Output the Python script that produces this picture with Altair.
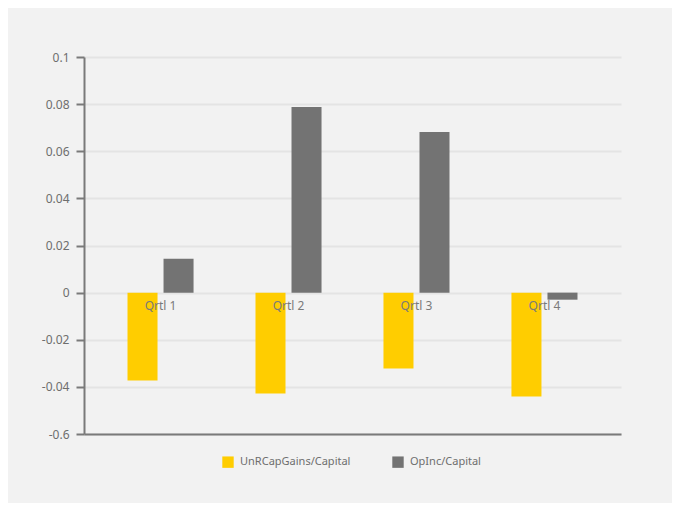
import altair as alt
import pandas as pd

quarters = ["Qrtl 1", "Qrtl 2", "Qrtl 3", "Qrtl 4"]
series = ["UnRCapGains/Capital", "OpInc/Capital"]
unr_cap_gains = [-0.0373, -0.0428, -0.0322, -0.0441]
opinc = [0.0144, 0.0788, 0.0682, -0.003]
colors = ["#FFCD00", "#737373"]
tick_values = [0.1, 0.08, 0.06, 0.04, 0.02, 0, -0.02, -0.04, -0.06]
tick_labels = ["0.1", "0.08", "0.06", "0.04", "0.02", "0", "-0.02", "-0.04", "-0.6"]

rows = []
for q, a, b in zip(quarters, unr_cap_gains, opinc):
    rows.append({"quarter": q, "series": series[0], "value": a})
    rows.append({"quarter": q, "series": series[1], "value": b})
df = pd.DataFrame(rows)
lab_df = pd.DataFrame({"quarter": quarters})

label_expr = "[" + ",".join("'%s'" % s for s in tick_labels) + "][indexof([" + \
    ",".join(str(v) for v in tick_values) + "], datum.value)]"

FONT = "Noto Sans"
TXT = "#6e6e6e"

xscale = alt.Scale(domain=quarters, paddingInner=0.484, paddingOuter=0.34)
yscale = alt.Scale(domain=[-0.06, 0.1], nice=False)

bars = alt.Chart(df).mark_bar().encode(
    x=alt.X("quarter:N", scale=xscale, sort=quarters,
            axis=alt.Axis(title=None, labels=False, ticks=False, domain=True,
                          domainColor="#7a7a7a", domainWidth=2, grid=False)),
    xOffset=alt.XOffset("series:N", sort=series,
                        scale=alt.Scale(domain=series, paddingInner=0.1667, paddingOuter=0)),
    y=alt.Y("value:Q", scale=yscale,
            axis=alt.Axis(title=None, values=tick_values, labelExpr=label_expr,
                          grid=True, gridColor="#e4e4e4", gridWidth=2,
                          domainColor="#7a7a7a", domainWidth=2,
                          tickColor="#7a7a7a", tickWidth=2, tickSize=8,
                          labelColor=TXT, labelFont=FONT, labelFontSize=12,
                          labelPadding=7)),
    color=alt.Color("series:N", sort=series,
                    scale=alt.Scale(domain=series, range=colors),
                    legend=alt.Legend(title=None, orient="none", legendX=138, legendY=399,
                                      direction="horizontal", symbolType="square",
                                      symbolSize=130, symbolStrokeWidth=0,
                                      labelFont=FONT, labelFontSize=11, labelColor=TXT,
                                      columnPadding=41, labelOffset=6)),
)

labels = alt.Chart(lab_df).mark_text(font=FONT, fontSize=12, color="#7a7a7a", dy=13,
                                     baseline="middle").encode(
    x=alt.X("quarter:N", scale=xscale, sort=quarters),
    y=alt.datum(0),
    text="quarter:N",
)

chart = alt.layer(bars, labels).properties(
    width=537, height=377,
    autosize=alt.AutoSizeParams(type="none"),
    padding={"left": 76, "top": 49, "right": 51, "bottom": 69},
    background="#f2f2f2",
).configure_view(stroke=None)

chart.save("out.html", embed_options={"renderer": "svg", "actions": False})
